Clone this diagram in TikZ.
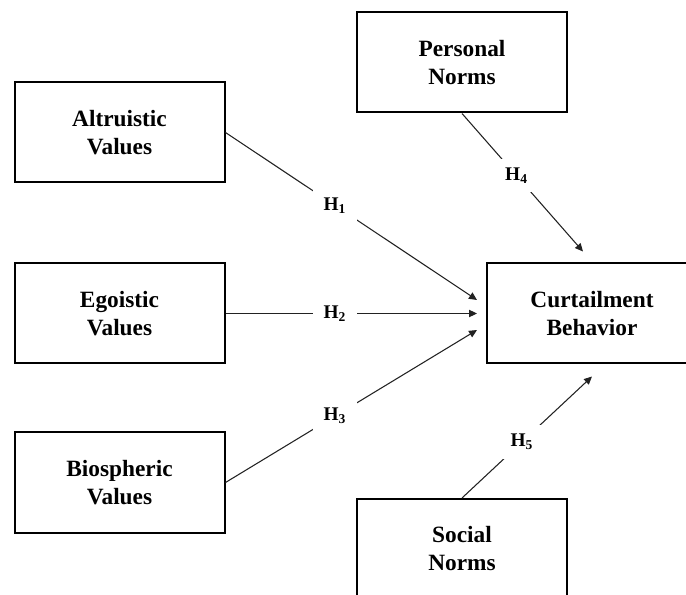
\documentclass[tikz,border=0pt]{standalone}
\usepackage{fontspec}
\setmainfont{Liberation Serif}
\usepackage{xcolor}
\usetikzlibrary{calc,arrows.meta}
\definecolor{ink}{HTML}{000000}
\definecolor{wire}{HTML}{222222}
\tikzset{
  box/.style={draw=ink, line width=1.5pt, minimum width=157.5pt, minimum height=75pt,
    align=center, font=\fontsize{17.5}{21}\selectfont\bfseries},
  arr/.style={draw=wire, line width=0.8pt, -{Triangle[length=6pt,width=5.5pt]}},
  hyp/.style={fill=white, inner sep=0pt, minimum width=33pt, minimum height=25pt,
    font=\fontsize{14.5}{16}\selectfont\bfseries},
}

\begin{document}
\begin{tikzpicture}[x=0.75pt,y=-0.75pt]
  \clip (0,0) rectangle (686,595);

  % value orientations on the left
  \node[box] (altr) at (119.5,132.5) {Altruistic\\Values};
  \node[box] (ego)  at (119.5,313.5) {Egoistic\\Values};
  \node[box] (bio)  at (119.5,482.5) {Biospheric\\Values};

  % norms and outcome
  \node[box] (pers) at (462,62.5) {Personal\\Norms};
  \node[box] (curt) at (592,313.5) {Curtailment\\Behavior};
  \node[box] (soc)  at (462,549) {Social\\Norms};

  \coordinate (t1) at ($(curt.west)+(-9,-13.5)$);
  \coordinate (t2) at ($(curt.west)+(-9,0)$);
  \coordinate (t3) at ($(curt.west)+(-9,16.5)$);
  \coordinate (t4) at ($(curt.north)+(-9,-11)$);
  \coordinate (t5) at ($(curt.south)+(0,12)$);

  \draw[arr] (altr.east) -- node[hyp,pos=0.435] {H\textsubscript{1}} (t1);
  \draw[arr] (ego.east)  -- node[hyp,pos=0.435] {H\textsubscript{2}} (t2);
  \draw[arr] (bio.east)  -- node[hyp,pos=0.435] {H\textsubscript{3}} (t3);
  \draw[arr] (pers.south) -- node[hyp,pos=0.45] {H\textsubscript{4}} (t4);
  \draw[arr] (soc.north) -- node[hyp,pos=0.46] {H\textsubscript{5}} (t5);
\end{tikzpicture}
\end{document}
